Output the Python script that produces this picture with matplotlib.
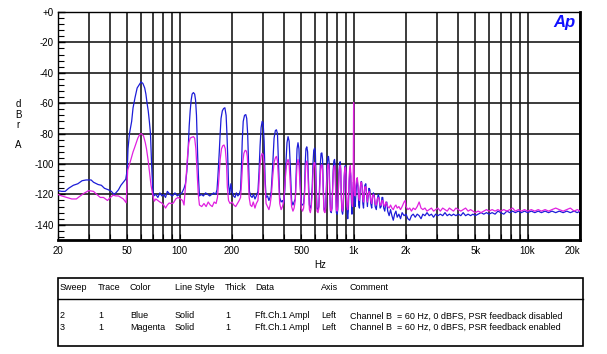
import matplotlib
matplotlib.use("Agg")
import matplotlib.pyplot as plt
from matplotlib.ticker import FixedLocator, NullFormatter, MultipleLocator
from matplotlib.patches import Rectangle
from matplotlib.lines import Line2D

plt.rcParams['font.family'] = ['Liberation Sans', 'DejaVu Sans']

# ---- data (Hz, dBrA) ----
blue_hz = [
    20, 21, 22, 23, 24.5, 26, 27.5, 29, 31, 32, 34, 35.5, 37, 39, 40.5, 42, 43, 44.5, 46, 47.5, 49,
    50, 50.5, 51.5, 53, 54, 55.5, 57, 58.5, 60, 61.5, 63, 64, 65, 66, 67, 68, 69, 70, 71,
    73, 75, 77, 79, 81, 83, 85, 88, 91, 94, 97, 100, 103, 106, 108, 110, 112, 113.5, 115, 116.5,
    118, 120, 122, 123.5, 125, 126, 127, 128.5, 130, 133, 137, 141, 145, 149, 153, 157, 161, 164,
    166, 169, 171, 173, 176, 179, 182, 185, 187, 189, 191, 194, 197, 200, 204, 208, 212, 216, 220,
    224, 227, 229, 232, 236, 240, 243, 246, 249, 252, 256, 261, 266, 271, 276, 282, 286, 290, 294,
    298, 302, 306, 310, 314, 320, 326, 331, 336, 343, 349, 355, 360, 365, 370, 376, 383, 390, 396,
    402, 408, 414, 420, 426, 432, 440, 448, 455, 462, 468, 473, 479, 485, 492, 500, 509, 516, 522,
    527, 532, 538, 544, 550, 557, 564, 570, 578, 584, 590, 597, 603, 609, 616, 624, 631, 637, 644,
    650, 657, 663, 669, 676, 684, 691, 697, 704, 710, 717, 723, 729, 736, 744, 751, 757, 763, 770,
    777, 783, 789, 796, 804, 811, 817, 823, 830, 837, 843, 849, 856, 864, 871, 877, 883, 890, 897,
    903, 910, 917, 925, 932, 938, 944, 950, 957, 963, 970, 978, 986, 992, 998, 1003, 1010, 1020,
    1030, 1040, 1050, 1060, 1070, 1080, 1090, 1100, 1110, 1120, 1130, 1140, 1150, 1160, 1175, 1190,
    1200, 1210, 1225, 1240, 1255, 1270, 1285, 1300, 1315, 1330, 1350, 1370, 1385, 1400, 1420, 1440,
    1455, 1470, 1490, 1510, 1530, 1550, 1570, 1600, 1630, 1660, 1690, 1720, 1750, 1780, 1820, 1860,
    1900, 1950, 2000, 2050, 2100, 2150, 2200, 2260, 2320, 2380, 2440, 2500, 2570, 2640, 2720, 2800,
    2880, 2960, 3050, 3150, 3250, 3350, 3450, 3550, 3650, 3750, 3870, 4000, 4130, 4260, 4400, 4550,
    4700, 4850, 5000, 5200, 5400, 5600, 5800, 6000, 6250, 6500, 6750, 7000, 7300, 7600, 7900, 8200,
    8500, 8850, 9200, 9600, 10000, 10500, 11000, 11500, 12000, 12600, 13200, 13800, 14500, 15200,
    16000, 16800, 17600, 18500, 19300, 20000]
blue_db = [
    -117.5, -118, -118, -116, -114, -113, -111, -110.5, -110.5, -112, -113.5, -114, -116, -117, -118, -120, -119, -117, -114, -112, -110,
    -104, -90, -80, -72, -63, -56, -50, -48, -46, -47, -50, -54, -60, -65, -72, -80, -100, -115, -121,
    -120, -122, -119, -121, -120, -122, -118, -120, -121, -119, -121, -120, -119, -116, -113, -105, -90, -75, -65, -58,
    -54, -53, -54, -58, -68, -82, -95, -110, -121, -120, -121, -119, -120, -121, -120, -119, -120, -117,
    -108, -92, -80, -70, -65, -63.5, -63, -68, -80, -95, -113, -120, -113, -118, -121, -122, -119, -121, -120,
    -117, -100, -85, -72, -68, -67.5, -70, -80, -100, -118, -121, -122, -120, -123, -121, -118, -105, -88, -76,
    -72, -73, -85, -110, -122, -121, -124, -122, -118, -100, -83, -78, -77.5, -80, -100, -122, -125, -124, -126,
    -118, -100, -86, -82, -85, -100, -124, -127, -125, -123, -105, -90, -86, -90, -110, -126, -127, -126, -118,
    -100, -90, -88.7, -92, -110, -127, -129, -127, -115, -100, -91, -89.5, -93, -112, -129, -130, -128, -115, -100,
    -93, -92.7, -97, -115, -130, -131, -128, -115, -102, -96, -95, -99, -117, -131, -132, -129, -117, -104, -98,
    -97, -101, -118, -132, -133, -130, -118, -106, -100, -98.5, -103, -120, -131, -133, -130, -120, -109, -102, -101,
    -105, -121, -132, -136, -131, -120, -111, -106, -104.5, -108, -123, -133, -128, -116, -112, -114, -124, -128,
    -120, -113, -111, -116, -127, -129, -118, -112, -111.5, -115, -126, -129, -120, -114, -113, -122,
    -128, -122, -116, -117, -126, -129, -121, -119, -121, -128, -130, -123, -120, -122, -129, -128,
    -122, -122, -129, -131, -126, -125, -131, -134, -130, -134, -137, -133, -131, -135, -133, -136,
    -132, -134, -133, -136, -137, -134, -133, -135, -133, -134, -136, -133, -134, -132, -134, -133,
    -135, -133, -134, -133, -134, -132, -134, -133, -134, -133, -134, -133, -134, -132, -134, -133,
    -134, -133, -134, -133, -132, -133, -132, -133, -132, -133, -131, -132, -133, -131, -132, -131,
    -132, -131, -132, -131, -132, -131, -132, -131, -132, -131, -132, -131, -132, -131,
    -132, -131, -132, -131, -132, -131]

mag_hz = [
    20, 21, 22.5, 24, 25.5, 26.5, 28, 30, 32, 33, 35, 36.5, 38.5, 40, 41.5, 43, 44.5, 46, 47.5, 49.3,
    50.3, 52.5, 54, 55, 57.5, 59, 60.2, 62, 63.5, 64.5, 66, 67.5, 68.5, 70, 71.5, 73, 75, 77, 79, 81,
    83, 85, 87, 90, 92, 95, 98, 101, 104, 106, 108.5, 111, 113, 115, 117, 120, 122, 124, 126, 128,
    130, 134, 138, 142, 146, 150, 154, 158, 162, 165, 168, 171, 174, 177, 180, 183, 186, 188, 191,
    195, 200, 205, 210, 215, 220, 224, 227, 230, 234, 238, 242, 245, 248, 251, 255, 260, 265, 271,
    276, 282, 286, 290, 294, 298, 302, 306, 310, 314, 320, 326, 331, 337, 343, 349, 355, 360, 365,
    370, 376, 383, 390, 396, 402, 408, 414, 420, 426, 432, 440, 448, 455, 462, 468, 473, 479, 485,
    492, 500, 509, 516, 522, 527, 532, 538, 544, 550, 557, 564, 570, 578, 584, 590, 597, 603, 609,
    616, 624, 631, 637, 644, 650, 657, 663, 669, 676, 684, 691, 697, 704, 710, 717, 723, 729, 736,
    744, 751, 757, 763, 770, 777, 783, 789, 796, 804, 811, 817, 823, 830, 837, 843, 849, 856, 864,
    871, 877, 883, 890, 897, 903, 910, 917, 925, 932, 938, 944, 950, 957, 963, 970, 978, 986, 992,
    996, 1000, 1004, 1010, 1020, 1030, 1040, 1050, 1060, 1070, 1080, 1090, 1100, 1110, 1120, 1130,
    1140, 1150, 1160, 1175, 1190, 1200, 1210, 1225, 1240, 1255, 1270, 1285, 1300, 1315, 1330, 1350,
    1370, 1385, 1400, 1420, 1440, 1455, 1470, 1490, 1510, 1530, 1550, 1570, 1600, 1630, 1660, 1690,
    1720, 1750, 1780, 1820, 1860, 1900, 1950, 1980, 2000, 2050, 2100, 2150, 2200, 2260, 2320, 2380,
    2440, 2500, 2570, 2640, 2720, 2800, 2880, 2960, 3050, 3150, 3250, 3350, 3450, 3550, 3650, 3750,
    3870, 4000, 4130, 4260, 4400, 4550, 4700, 4850, 5000, 5200, 5400, 5600, 5800, 6000, 6250, 6500,
    6750, 7000, 7300, 7600, 7900, 8200, 8500, 8850, 9200, 9600, 10000, 10500, 11000, 11500, 12000,
    12600, 13200, 13800, 14500, 15200, 16000, 16800, 17600, 18500, 19300, 20000]
mag_db = [
    -120, -121, -122, -123, -123, -121.5, -119.5, -117.5, -118, -119.5, -122, -122, -124, -122, -120.5, -121, -121, -122, -123, -125.5,
    -104, -97, -92, -89.5, -83, -80.5, -80, -81.5, -86, -90, -98, -108, -114, -120, -124.5, -123, -124, -125, -125.7, -127,
    -129, -127, -125.7, -126, -125.7, -123, -122, -123, -124, -127, -112, -95, -86, -83, -82.5, -82, -83, -90, -105, -120,
    -127, -128, -126, -128, -125, -127, -128, -125, -126, -122, -110, -97, -90, -88, -87.5, -90, -100, -115, -124,
    -126, -125, -127, -128, -126, -124, -122, -112, -100, -93, -91, -91.5, -95, -108, -122, -127, -128, -125, -129,
    -126, -124, -112, -100, -95, -93, -94, -100, -115, -126, -128, -130, -127, -120, -108, -99, -96, -95, -98,
    -110, -126, -130, -128, -125, -115, -104, -99, -97, -100, -112, -128, -131, -129, -124, -110, -100, -97, -100,
    -114, -129, -131, -129, -121, -108, -100, -98, -101, -116, -130, -132, -129, -120, -107, -100, -99, -102, -118,
    -131, -132, -129, -119, -107, -101, -100.5, -104, -119, -131, -132, -129, -118, -107, -101, -100, -104, -120, -130,
    -131, -128, -118, -107, -102, -101, -104, -120, -130, -131, -128, -118, -108, -103, -101, -105, -120, -129, -131,
    -127, -117, -108, -103, -102, -106, -120, -128, -130, -126, -116, -107, -103, -101, -106, -118, -126, -128, -115,
    -100, -59.5, -100, -118, -121, -114, -110, -109, -114, -122, -124, -117, -112, -112, -116, -123,
    -125, -119, -115, -115, -121, -125, -121, -118, -119, -124, -126, -121, -120, -122, -126, -127,
    -123, -122, -123, -127, -127, -124, -124, -127, -128, -125, -126, -128, -129, -127, -129, -130,
    -128, -127, -129, -128, -130, -128, -125, -124, -128, -130, -129, -131, -129, -130, -128, -125,
    -129, -130, -129, -131, -130, -129, -131, -130, -129, -131, -129, -130, -131, -129, -130, -131,
    -129, -130, -131, -130, -129, -131, -130, -131, -132, -131, -132, -131, -130, -131, -130, -131,
    -130, -131, -130, -131, -130, -129, -131, -130, -131, -130, -131, -130, -131, -130, -131,
    -130, -131, -130, -129, -130, -131, -130, -129, -131, -130, -131]

x_major = [20, 50, 100, 200, 500, 1000, 2000, 5000, 10000, 20000]
x_labels = ['20', '50', '100', '200', '500', '1k', '2k', '5k', '10k', '20k']
x_grid = [20, 30, 40, 50, 60, 70, 80, 90, 100, 200, 300, 400, 500, 600, 700, 800, 900,
          1000, 2000, 3000, 4000, 5000, 6000, 7000, 8000, 9000, 10000, 20000]
y_major = [0, -20, -40, -60, -80, -100, -120, -140]
y_labels = ['+0', '-20', '-40', '-60', '-80', '-100', '-120', '-140']

table_cols = ['Sweep', 'Trace', 'Color', 'Line Style', 'Thick', 'Data', 'Axis', 'Comment']
table_rows = [
    ['2', '1', 'Blue', 'Solid', '1', 'Fft.Ch.1 Ampl', 'Left',
     'Channel B  = 60 Hz, 0 dBFS, PSR feedback disabled'],
    ['3', '1', 'Magenta', 'Solid', '1', 'Fft.Ch.1 Ampl', 'Left',
     'Channel B  = 60 Hz, 0 dBFS, PSR feedback enabled'],
]

W, H = 607, 354
fig = plt.figure(figsize=(W / 100, H / 100), dpi=100)


def px(x, y):
    return x / W, 1 - y / H


ax = fig.add_axes([58 / W, 1 - 240 / H, 522 / W, 228 / H])
ax.set_xscale('log')
ax.set_xlim(20, 20000)
ax.set_ylim(-150, 0)

grid_c = '#1a1a1a'
for g in x_grid:
    ax.axvline(g, color=grid_c, lw=1.2, zorder=1)
for g in y_major:
    ax.axhline(g, color=grid_c, lw=1.2, zorder=1)

ax.plot(blue_hz, blue_db, color='#1c1cd8', lw=0.9, zorder=3)
ax.plot(mag_hz, mag_db, color='#e020e0', lw=0.9, zorder=4)

ax.xaxis.set_major_locator(FixedLocator(x_major))
ax.set_xticklabels(x_labels)
ax.xaxis.set_minor_locator(FixedLocator(x_grid))
ax.xaxis.set_minor_formatter(NullFormatter())
ax.yaxis.set_major_locator(FixedLocator(y_major))
ax.set_yticklabels(y_labels)
ax.yaxis.set_minor_locator(MultipleLocator(4))
ax.tick_params(axis='both', which='both', direction='in', labelsize=7, colors='black')
ax.tick_params(axis='y', which='major', length=5, width=1)
ax.tick_params(axis='y', which='minor', length=4, width=0.8)
ax.tick_params(axis='x', which='both', length=4, width=0.8)
ax.tick_params(axis='y', pad=3)
ax.tick_params(axis='x', pad=4)
for lab in ax.get_xticklabels():
    if lab.get_text() == '20k':
        lab.set_horizontalalignment('right')

for side in ['left', 'top']:
    ax.spines[side].set_linewidth(1.0)
ax.spines['right'].set_linewidth(2.0)
ax.spines['bottom'].set_linewidth(2.0)

ax.text(0.992, 0.985, 'Ap', transform=ax.transAxes, ha='right', va='top',
        color='#1010ff', fontsize=12, fontweight='bold', style='italic', zorder=6)

# y axis label, stacked letters
for ch, yy in zip(['d', 'B', 'r', 'A'], [104, 115, 125, 145]):
    fig.text(*px(18, yy), ch, ha='center', va='center', fontsize=7)
fig.text(*px(320, 265), 'Hz', ha='center', va='center', fontsize=7)

# legend table under the plot
x0, x1, y0, y1 = 58, 583, 278, 346
fig.patches.append(Rectangle(px(x0, y1), (x1 - x0) / W, (y1 - y0) / H,
                             transform=fig.transFigure, fill=False, lw=1.2, ec='black'))
fig.lines.append(Line2D([x0 / W, x1 / W], [1 - 299 / H, 1 - 299 / H],
                        transform=fig.transFigure, color='black', lw=1.0))
col_x = [60, 98, 130, 175, 225, 255, 321, 350]
for cx, name in zip(col_x, table_cols):
    fig.text(*px(cx, 288), name, ha='left', va='center', fontsize=6.5)
for ry, row in zip([316, 327], table_rows):
    for cx, val in zip(col_x, row):
        fig.text(*px(cx, ry), val, ha='left', va='center', fontsize=6.5)

fig.savefig('out.png', dpi=100)
